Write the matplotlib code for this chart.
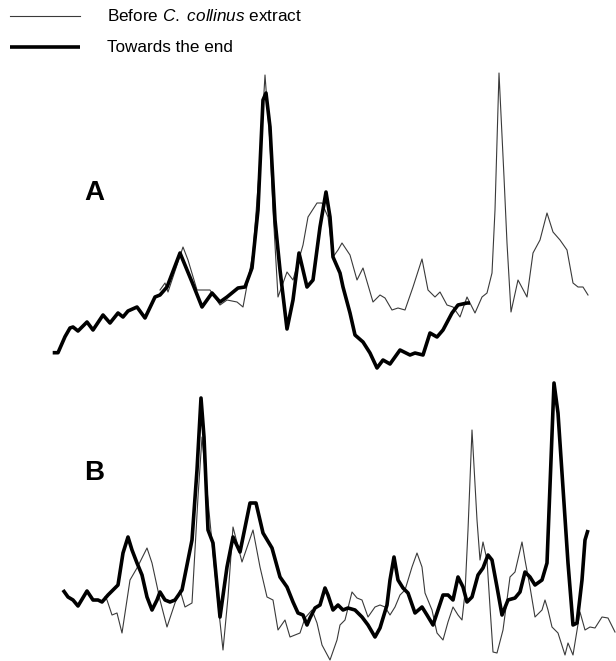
import matplotlib
matplotlib.use("Agg")
import matplotlib.pyplot as plt

plt.rcParams['font.family'] = ['Liberation Sans', 'DejaVu Sans']
plt.rcParams['mathtext.fontset'] = 'custom'
plt.rcParams['mathtext.rm'] = 'Liberation Sans'
plt.rcParams['mathtext.it'] = 'Liberation Sans:italic'

# Panel A - "Towards the end" (thick)
a_end_x = [52.7, 58, 65, 70, 73, 78, 87, 93, 103, 110, 118, 123, 128, 137, 145, 155, 160, 167,
           180, 192, 202, 212, 220, 227, 238, 245, 252, 258, 263, 266, 270, 275, 280, 287, 293,
           299, 307, 313, 320, 326, 330, 333, 340, 343, 350, 355, 363, 370, 377, 383, 390, 400,
           410, 415, 423, 430, 437, 443, 452, 458, 467, 470]
a_end_y = [352.7, 352.7, 336.7, 328, 327, 331, 322, 330, 315, 323, 313, 317, 311, 307, 318, 297,
           295, 287, 253, 282, 307, 293, 302, 297, 288, 287, 268, 210, 100, 93, 127, 220, 270,
           329, 300, 253, 287, 280, 227, 192, 217, 257, 273, 287, 313, 335, 342, 353, 368, 360,
           364, 350, 355, 353, 355, 333, 337, 330, 313, 305, 303, 303]

# Panel A - "Before" (thin)
a_bef_x = [160, 165, 168, 183, 188, 197, 210, 220, 227, 237, 243, 253, 260, 265, 270, 273, 278,
           287, 293, 303, 308, 317, 322, 328, 333, 338, 342, 350, 357, 363, 373, 380, 385, 392,
           398, 405, 413, 422, 428, 435, 440, 447, 453, 460, 467, 475, 482, 487, 492, 495, 499,
           504, 507, 511, 518, 527, 533, 540, 547, 553, 560, 567, 573, 578, 583, 588]
a_bef_y = [290, 283, 292, 247, 260, 290, 290, 305, 300, 302, 307, 253, 160, 75, 143, 210, 297,
           272, 280, 245, 217, 203, 203, 217, 257, 250, 243, 255, 280, 268, 302, 295, 298, 310,
           308, 310, 287, 259, 290, 297, 292, 305, 307, 317, 297, 313, 297, 293, 273, 210, 73,
           177, 243, 312, 280, 297, 253, 240, 213, 232, 240, 250, 283, 287, 287, 295]

# Panel B - "Towards the end" (thick)
b_end_x = [63, 68, 73, 78, 87, 93, 98, 102, 108, 115, 118, 123, 128, 132, 137, 142, 147, 152,
           157, 160, 165, 170, 175, 182, 188, 192, 197, 201, 204, 208, 213, 220, 227, 233, 240,
           250, 256, 263, 272, 280, 287, 293, 298, 303, 307, 310, 315, 320, 325, 328, 333, 338,
           343, 348, 355, 362, 368, 375, 380, 387, 390, 394, 398, 403, 408, 415, 422, 427, 433,
           438, 443, 448, 453, 458, 463, 467, 472, 478, 483, 488, 492, 497, 502, 508, 515, 520,
           525, 530, 535, 542, 547, 554, 558, 568, 573, 577, 582, 585, 588]
b_end_y = [590, 597, 600, 606, 591, 600, 600, 602, 595, 588, 585, 553, 537, 550, 563, 575, 597,
           610, 600, 592, 600, 602, 600, 590, 560, 540, 470, 398, 437, 530, 543, 617, 567, 537,
           552, 503, 503, 533, 548, 577, 587, 602, 613, 615, 625, 618, 608, 605, 588, 595, 610,
           605, 610, 608, 610, 617, 625, 637, 628, 605, 580, 557, 580, 588, 593, 613, 607, 615,
           625, 610, 595, 595, 600, 577, 587, 602, 597, 575, 568, 555, 560, 587, 615, 600, 598,
           592, 572, 577, 585, 580, 563, 383, 413, 563, 625, 623, 580, 540, 530]

# Panel B - "Before" (thin)
b_bef_x = [105, 107, 112, 117, 122, 130, 137, 147, 152, 160, 167, 175, 180, 185, 192, 198, 202,
           207, 213, 218, 223, 228, 233, 242, 253, 260, 267, 273, 278, 285, 290, 300, 305, 312,
           317, 322, 330, 337, 340, 345, 352, 357, 362, 368, 375, 380, 385, 390, 395, 400, 405,
           412, 417, 422, 425, 432, 437, 443, 448, 453, 458, 462, 465, 468, 472, 477, 480, 483,
           487, 490, 493, 497, 503, 510, 515, 522, 525, 530, 535, 542, 545, 548, 552, 558, 565,
           568, 573, 580, 585, 590, 595, 602, 608, 615]
b_bef_y = [597, 600, 615, 613, 633, 580, 568, 548, 563, 600, 627, 603, 590, 607, 603, 497, 437,
           490, 553, 603, 650, 597, 527, 562, 530, 567, 597, 600, 630, 620, 637, 633, 618, 610,
           623, 645, 660, 640, 625, 620, 592, 598, 600, 617, 607, 605, 607, 615, 607, 595, 590,
           567, 553, 567, 593, 610, 633, 640, 622, 607, 615, 620, 593, 530, 430, 520, 560, 542,
           560, 607, 652, 653, 630, 577, 572, 542, 560, 587, 617, 610, 600, 610, 627, 633, 655,
           643, 655, 612, 630, 627, 628, 617, 618, 632]

legend_labels = ["Before $\\it{C.\\ collinus}$ extract", "Towards the end"]
panel_labels = ["A", "B"]

fig = plt.figure(figsize=(6.16, 6.61), dpi=100)
ax = fig.add_axes([0, 0, 1, 1])
ax.set_xlim(0, 616)
ax.set_ylim(661, 0)
ax.axis('off')

thin_kw = dict(color='#3a3a3a', lw=0.8, solid_joinstyle='round')
thick_kw = dict(color='black', lw=2.6, solid_joinstyle='round', solid_capstyle='butt')

ax.plot(a_bef_x, a_bef_y, **thin_kw)
ax.plot(a_end_x, a_end_y, **thick_kw)
ax.plot(b_bef_x, b_bef_y, **thin_kw)
ax.plot(b_end_x, b_end_y, **thick_kw)

# legend
ax.plot([10, 80], [16, 16], **thin_kw)
ax.plot([10, 80], [47, 47], **thick_kw)
ax.text(107, 16, legend_labels[0], fontsize=12.3, va='center', ha='left')
ax.text(107, 47, legend_labels[1], fontsize=12.3, va='center', ha='left')

ax.text(94, 193, panel_labels[0], fontsize=20, fontweight='bold', va='center', ha='center')
ax.text(94, 473, panel_labels[1], fontsize=20, fontweight='bold', va='center', ha='center')

fig.savefig('out.png', dpi=100)
